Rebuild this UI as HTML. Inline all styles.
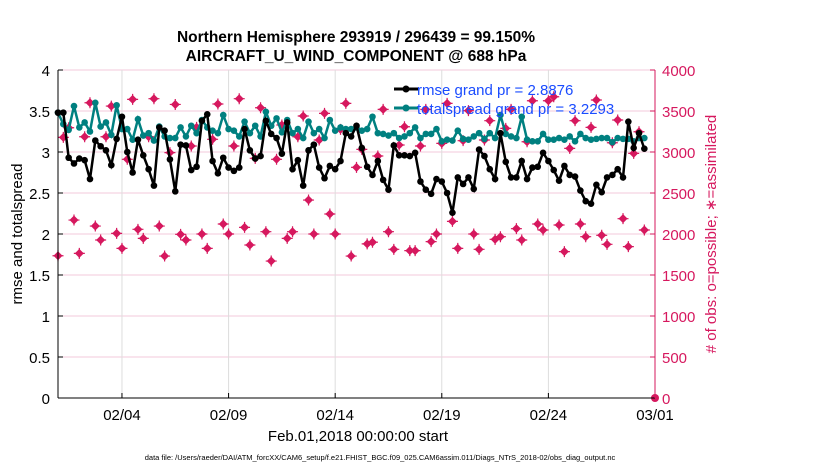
<!DOCTYPE html>
<html><head><meta charset="utf-8"><style>
body{margin:0;background:#fff;}
svg text{font-family:"Liberation Sans",sans-serif;}
</style></head><body>
<svg id="c" width="830" height="470" viewBox="0 0 830 470" xmlns="http://www.w3.org/2000/svg">
<text x="356" y="42" text-anchor="middle" font-size="15.5" font-weight="bold">Northern Hemisphere 293919 / 296439 = 99.150%</text>
<text x="356" y="61" text-anchor="middle" font-size="15.5" font-weight="bold">AIRCRAFT_U_WIND_COMPONENT @ 688 hPa</text>
<g id="grid"></g>
<g id="series"></g>
<g id="axes"></g>
<text transform="translate(22,234) rotate(-90)" text-anchor="middle" font-size="15">rmse and totalspread</text>
<text transform="translate(716,234) rotate(-90)" text-anchor="middle" font-size="15" fill="#d6185e"># of obs: o=possible; ∗=assimilated</text>
<text x="358" y="441" text-anchor="middle" font-size="15">Feb.01,2018 00:00:00 start</text>
<text x="380" y="460" text-anchor="middle" font-size="7.5">data file: /Users/raeder/DAI/ATM_forcXX/CAM6_setup/f.e21.FHIST_BGC.f09_025.CAM6assim.011/Diags_NTrS_2018-02/obs_diag_output.nc</text>
<g>
<line x1="394" y1="89" x2="418" y2="89" stroke="#000" stroke-width="3"/>
<circle cx="406" cy="89" r="3.5" fill="#000"/>
<text x="417" y="95" font-size="15" fill="#1a4cff">rmse grand pr = 2.8876</text>
<line x1="394" y1="108" x2="418" y2="108" stroke="#008080" stroke-width="3"/>
<circle cx="406" cy="108" r="3.5" fill="#008080"/>
<text x="417" y="114" font-size="15" fill="#1a4cff">totalspread grand pr = 3.2293</text>
</g>
</svg>
<script>
const dateTicks=["02/04","02/09","02/14","02/19","02/24","03/01"];
const dateTickDays=[3,8,13,18,23,28];
const leftTicks=[0,0.5,1,1.5,2,2.5,3,3.5,4];
const rightTicks=[0,500,1000,1500,2000,2500,3000,3500,4000];
const rmse=[3.48,3.48,2.93,2.86,2.92,2.9,2.67,3.14,3.07,3.02,2.84,3.16,3.43,3.0,2.75,3.15,2.96,2.79,2.59,3.3,3.26,2.91,2.52,3.09,3.08,2.78,2.82,3.38,3.46,2.89,2.74,2.93,2.81,2.77,2.81,3.28,3.02,2.92,2.95,3.38,3.22,3.17,2.98,3.36,2.79,2.9,2.59,3.02,3.09,2.81,2.68,2.83,2.79,2.89,3.23,
3.19,3.32,3.05,2.82,2.72,2.89,2.66,2.54,3.08,2.96,2.96,2.95,2.99,2.64,2.54,2.49,2.67,2.64,2.5,2.26,2.69,2.61,2.69,2.55,3.03,2.95,2.79,2.67,3.23,2.88,2.69,2.69,2.89,2.67,2.81,2.82,2.99,2.89,2.78,2.65,2.83,2.72,2.7,2.53,2.4,2.37,2.6,2.51,2.69,2.72,2.79,2.69,3.37,3.05,3.23,3.04];
const spread=[3.48,3.34,3.27,3.56,3.3,3.36,3.25,3.6,3.31,3.36,3.21,3.57,3.28,3.28,3.15,3.4,3.2,3.23,3.14,3.31,3.19,3.17,3.17,3.3,3.19,3.32,3.23,3.39,3.3,3.26,3.23,3.45,3.28,3.26,3.19,3.37,3.23,3.32,3.19,3.49,3.32,3.41,3.24,3.39,3.23,3.28,3.17,3.37,3.23,3.28,3.17,3.39,3.26,3.3,3.28,
3.28,3.3,3.26,3.28,3.43,3.23,3.22,3.2,3.23,3.17,3.19,3.23,3.3,3.17,3.22,3.22,3.28,3.13,3.15,3.14,3.26,3.16,3.15,3.19,3.23,3.16,3.23,3.17,3.45,3.22,3.19,3.17,3.43,3.15,3.13,3.13,3.22,3.15,3.15,3.17,3.15,3.19,3.13,3.22,3.17,3.15,3.16,3.17,3.17,3.12,3.17,3.16,3.16,3.13,3.17,3.17];
const nobs=[1735,3178,3296,2170,1764,3186,3601,2097,1927,3186,3560,2008,1825,2911,3642,2057,1947,3186,3650,2097,1731,2992,3580,1996,1927,3073,3300,2000,1825,3155,3585,2122,2000,3073,3650,2081,1866,2923,3540,2028,1670,2911,3329,1947,2028,3186,3439,2414,2000,3146,3471,2244,2000,3276,3593,
1731,2813,3032,1880,1900,2951,3520,2028,1813,3085,3308,1797,1797,3073,3520,1907,2000,3105,3593,2154,1825,3138,3504,2000,1813,3146,3382,1935,1967,3288,3520,2065,1927,3125,3625,2122,2049,3625,3674,2110,1785,3044,3382,2122,1967,3300,3634,1984,1874,3113,3390,2187,1846,2983,3247,2049];
const X0=58,X1=655,Y0=398,Y1=70;
const xs=d=>X0+d*(X1-X0)/28;
const yl=v=>Y0-v*(Y0-Y1)/4;
const yr=v=>Y0-v*(Y0-Y1)/4000;
const NS="http://www.w3.org/2000/svg";
function mk(t,a,p){const e=document.createElementNS(NS,t);for(const k in a)e.setAttribute(k,a[k]);p.appendChild(e);return e;}
const grid=document.getElementById('grid'),axes=document.getElementById('axes'),ser=document.getElementById('series');
leftTicks.forEach(v=>{
 const g=mk('line',{x1:X0,x2:X1,y1:yl(v),y2:yl(v),stroke:'#f3cadb','stroke-width':1},grid);
 
 
 const t=mk('text',{x:50,y:yl(v)+6,'text-anchor':'end','font-size':15},axes);t.textContent=v;
 
 
 mk('line',{x1:X0,x2:X0+5,y1:yl(v),y2:yl(v),stroke:'#000'},axes);
});
rightTicks.forEach(v=>{
 const t=mk('text',{x:662,y:yr(v)+6,'font-size':15,fill:'#d6185e'},axes);t.textContent=v;
 
 
 mk('line',{x1:X1-5,x2:X1,y1:yr(v),y2:yr(v),stroke:'#d6185e'},axes);
});
dateTicks.forEach((s,i)=>{
 const x=xs(dateTickDays[i]);
 const g=mk('line',{x1:x,x2:x,y1:Y1,y2:Y0,stroke:'#dddddd'},grid);
 
 
 mk('line',{x1:x,x2:x,y1:Y0,y2:Y0-5,stroke:'#000'},axes);
 const t=mk('text',{x:x,y:Y0+22,'text-anchor':'middle','font-size':15},axes);t.textContent=s;
 
 
});
mk('line',{x1:X0,x2:X0,y1:Y1,y2:Y0,stroke:'#000'},axes);
mk('line',{x1:X0,x2:X1,y1:Y0,y2:Y0,stroke:'#000'},axes);
mk('line',{x1:X1,x2:X1,y1:Y1,y2:Y0,stroke:'#d6185e'},axes);
nobs.forEach((v,i)=>{
 const x=xs(i*0.25),y=yr(v);
 const g=mk('g',{},ser);
 
 
 mk('path',{d:`M${x} ${y-4.5}L${x+4.5} ${y}L${x} ${y+4.5}L${x-4.5} ${y}Z`,fill:'#d6185e'},g);
 mk('path',{d:`M${x-5.5} ${y}H${x+5.5}M${x} ${y-5.5}V${y+5.5}`,stroke:'#d6185e','stroke-width':1.2},g);
});
const z=mk('circle',{cx:X1,cy:Y0,r:4,fill:'#d6185e'},ser);


function line(arr,col,name){
 const p=mk('polyline',{points:arr.map((v,i)=>xs(i*0.25)+','+yl(v)).join(' '),fill:'none',stroke:col,'stroke-width':2.5},ser);
 
 
 arr.forEach((v,i)=>{const c=mk('circle',{cx:xs(i*0.25),cy:yl(v),r:3.3,fill:col},ser);
  
  });
}
line(spread,'#008080','totalspread');
line(rmse,'#000000','rmse');
</script>
</body></html>
